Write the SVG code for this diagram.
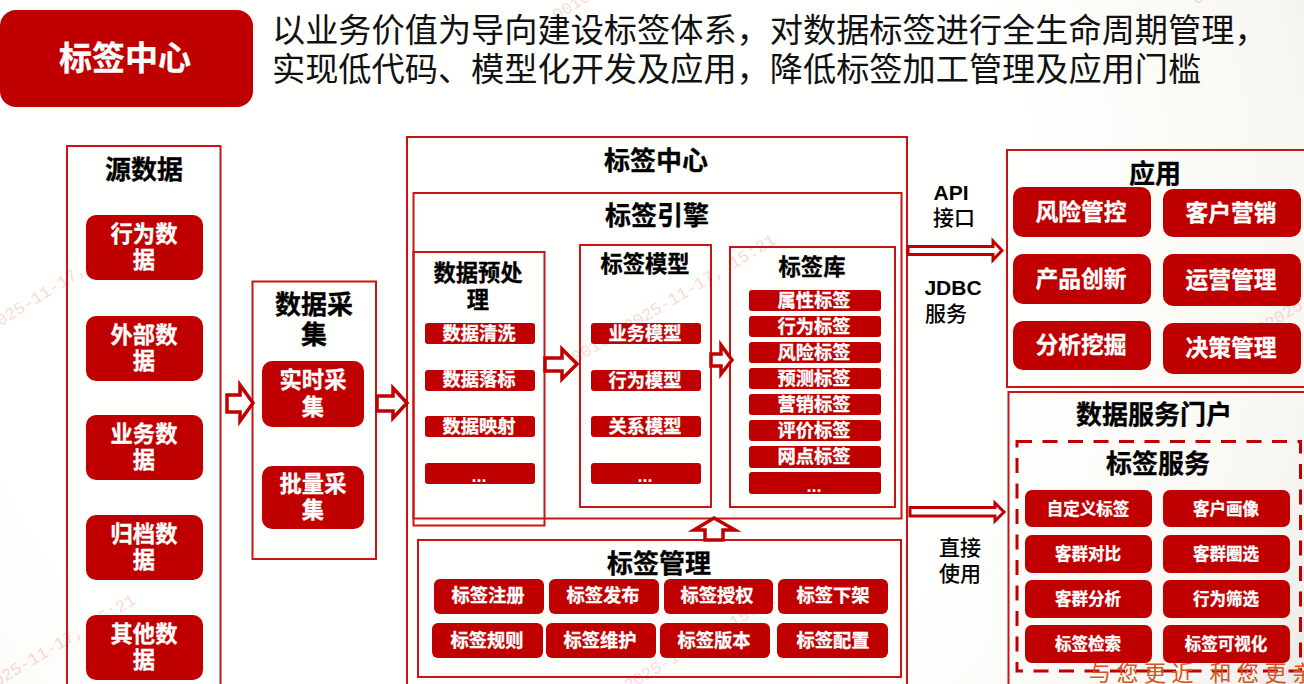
<svg xmlns="http://www.w3.org/2000/svg" width="1304" height="684" viewBox="0 0 1304 684">
<defs>
<radialGradient id="bg" gradientUnits="userSpaceOnUse" cx="500" cy="250" r="950">
<stop offset="0.55" stop-color="#fffffd"/><stop offset="0.85" stop-color="#f8f7f3"/><stop offset="1" stop-color="#e6e5e1"/>
</radialGradient>
</defs>
<style>
text{font-family:"Noto Sans CJK SC","Liberation Sans",sans-serif;text-anchor:middle}
.box{fill:none;stroke:#c81414;stroke-width:2}
.chip{fill:#c00000}
.w{fill:#fff;font-weight:700;stroke:#fff;stroke-width:.3}
.t{fill:#000;font-weight:700;stroke:#000;stroke-width:.3}
.n{fill:#000;font-size:21px;font-weight:500}
.lat{font-family:"Liberation Sans",sans-serif;font-weight:700}
.arrow{fill:#fff;stroke:#c00000;stroke-width:3.5}
.s26{font-size:26px}.s23{font-size:22.8px}.s22{font-size:22.3px}.s18{font-size:18.3px}.s17{font-size:16.5px}
.dots{font-family:"Liberation Sans",sans-serif;font-size:18px;font-weight:700;fill:#fff}
.wm{fill:#e84040;opacity:.2;font-size:17px;font-family:"Liberation Mono",monospace;text-anchor:end}
</style>
<rect width="1304" height="684" fill="url(#bg)"/>
<g id="watermarks">
<text class="wm" transform="translate(139,240) rotate(-32)">2025-11-17, 15:21</text>
<text class="wm" transform="translate(777,243) rotate(-31)">0010082025-11-17, 15:21</text>
<text class="wm" transform="translate(137,603) rotate(-31)">2025-11-17, 15:21</text>
<text class="wm" transform="translate(777,602) rotate(-31)">2025-11-17, 15:21</text>
<text class="wm" transform="translate(1304,308) rotate(-32)">0010082025</text>
<text class="wm" transform="translate(600,-6) rotate(-32)">00100</text>
<text class="wm" transform="translate(1240,-22) rotate(-32)">00100</text>
</g>
<g id="header">
<rect class="chip" x="0" y="10" width="253" height="97" rx="16"/>
<text class="w" x="125" y="70" font-size="33">标签中心</text>
<text x="272" y="42" font-size="33.200" fill="#111" style="text-anchor:start">以业务价值为导向建设标签体系，对数据标签进行全生命周期管理，</text>
<text x="272" y="81" font-size="33.200" fill="#111" style="text-anchor:start">实现低代码、模型化开发及应用，降低标签加工管理及应用门槛</text>
</g>
<g id="source">
<rect class="box" x="67" y="146" width="153.500" height="560"/>
<text class="t s26" x="144" y="179">源数据</text>
<rect class="chip" x="86" y="215" width="117" height="65" rx="10"/><text class="w s22" x="144" y="242">行为数</text><text class="w s22" x="144" y="268">据</text>
<rect class="chip" x="86" y="316" width="117" height="65" rx="10"/><text class="w s22" x="144" y="343">外部数</text><text class="w s22" x="144" y="369">据</text>
<rect class="chip" x="86" y="415" width="117" height="65" rx="10"/><text class="w s22" x="144" y="442">业务数</text><text class="w s22" x="144" y="468">据</text>
<rect class="chip" x="86" y="515" width="117" height="65" rx="10"/><text class="w s22" x="144" y="542">归档数</text><text class="w s22" x="144" y="568">据</text>
<rect class="chip" x="86" y="615" width="117" height="65" rx="10"/><text class="w s22" x="144" y="642">其他数</text><text class="w s22" x="144" y="668">据</text>
</g>
<g id="collect">
<rect class="box" x="252.500" y="281.500" width="123.500" height="277.500"/>
<text class="t s26" x="314" y="314">数据采</text><text class="t s26" x="314" y="344">集</text>
<rect class="chip" x="262" y="361" width="102" height="66" rx="10"/><text class="w s22" x="313" y="388">实时采</text><text class="w s22" x="313" y="415">集</text>
<rect class="chip" x="262" y="466" width="102" height="63" rx="10"/><text class="w s22" x="313" y="492">批量采</text><text class="w s22" x="313" y="518">集</text>
</g>
<g id="center">
<rect class="box" x="407" y="137" width="500" height="570"/>
<text class="t s26" x="656" y="170">标签中心</text>
</g>
<g id="engine">
<rect class="box" x="413.500" y="193" width="488" height="325.500"/>
<text class="t s26" x="657" y="225">标签引擎</text>
</g>
<g id="preprocess">
<rect class="box" x="413.500" y="252" width="131" height="273.500"/>
<text class="t s22" x="478" y="281">数据预处</text><text class="t s22" x="478" y="308">理</text>
<rect class="chip" x="425" y="323" width="110" height="21" rx="3"/><text class="w s18" x="479" y="340">数据清洗</text>
<rect class="chip" x="425" y="370" width="110" height="21" rx="3"/><text class="w s18" x="479" y="386">数据落标</text>
<rect class="chip" x="425" y="416" width="110" height="21" rx="3"/><text class="w s18" x="479" y="433">数据映射</text>
<rect class="chip" x="425" y="463" width="110" height="21" rx="3"/><text class="dots" x="479" y="482">...</text>
</g>
<g id="model">
<rect class="box" x="580" y="245" width="131" height="262"/>
<text class="t s22" x="645" y="272">标签模型</text>
<rect class="chip" x="591" y="323" width="110" height="21" rx="3"/><text class="w s18" x="645" y="340">业务模型</text>
<rect class="chip" x="591" y="370" width="110" height="21" rx="3"/><text class="w s18" x="645" y="387">行为模型</text>
<rect class="chip" x="591" y="416" width="110" height="21" rx="3"/><text class="w s18" x="645" y="433">关系模型</text>
<rect class="chip" x="591" y="463" width="110" height="21" rx="3"/><text class="dots" x="645" y="482">...</text>
</g>
<g id="library">
<rect class="box" x="730" y="247" width="165" height="260"/>
<text class="t s22" x="812" y="275">标签库</text>
<rect class="chip" x="749" y="290" width="132" height="21" rx="3"/><text class="w s18" x="814" y="307">属性标签</text>
<rect class="chip" x="749" y="316" width="132" height="21" rx="3"/><text class="w s18" x="814" y="333">行为标签</text>
<rect class="chip" x="749" y="342" width="132" height="21" rx="3"/><text class="w s18" x="814" y="359">风险标签</text>
<rect class="chip" x="749" y="368" width="132" height="21" rx="3"/><text class="w s18" x="814" y="385">预测标签</text>
<rect class="chip" x="749" y="394" width="132" height="21" rx="3"/><text class="w s18" x="814" y="411">营销标签</text>
<rect class="chip" x="749" y="420" width="132" height="21" rx="3"/><text class="w s18" x="814" y="437">评价标签</text>
<rect class="chip" x="749" y="446" width="132" height="22" rx="3"/><text class="w s18" x="814" y="463">网点标签</text>
<rect class="chip" x="749" y="472" width="132" height="22" rx="3"/><text class="dots" x="814" y="492">...</text>
</g>
<g id="manage">
<rect class="box" x="418" y="540" width="483" height="137"/>
<text class="t s26" x="659" y="573">标签管理</text>
<rect class="chip" x="434" y="579" width="110" height="35" rx="6"/><text class="w s18" x="488" y="602">标签注册</text>
<rect class="chip" x="549" y="579" width="110" height="35" rx="6"/><text class="w s18" x="603" y="602">标签发布</text>
<rect class="chip" x="664" y="579" width="109" height="35" rx="6"/><text class="w s18" x="717" y="602">标签授权</text>
<rect class="chip" x="778" y="579" width="110" height="35" rx="6"/><text class="w s18" x="833" y="602">标签下架</text>
<rect class="chip" x="432" y="623" width="111" height="35" rx="6"/><text class="w s18" x="487" y="647">标签规则</text>
<rect class="chip" x="546" y="623" width="110" height="35" rx="6"/><text class="w s18" x="600" y="647">标签维护</text>
<rect class="chip" x="660" y="623" width="110" height="35" rx="6"/><text class="w s18" x="714" y="647">标签版本</text>
<rect class="chip" x="777" y="623" width="111" height="35" rx="6"/><text class="w s18" x="833" y="647">标签配置</text>
</g>
<g id="apps">
<rect class="box" x="1007" y="150" width="310" height="237"/>
<text class="t s26" x="1155" y="183">应用</text>
<rect class="chip" x="1013" y="187" width="138" height="50" rx="10"/><text class="w s23" x="1081" y="220">风险管控</text>
<rect class="chip" x="1163" y="189" width="138" height="48" rx="10"/><text class="w s23" x="1231" y="221">客户营销</text>
<rect class="chip" x="1013" y="254" width="138" height="50" rx="10"/><text class="w s23" x="1081" y="287">产品创新</text>
<rect class="chip" x="1163" y="254" width="138" height="52" rx="10"/><text class="w s23" x="1231" y="288">运营管理</text>
<rect class="chip" x="1013" y="321" width="138" height="49" rx="10"/><text class="w s23" x="1081" y="353">分析挖掘</text>
<rect class="chip" x="1163" y="323" width="138" height="51" rx="10"/><text class="w s23" x="1231" y="356">决策管理</text>
</g>
<g id="portal">
<rect class="box" x="1008.500" y="392" width="310" height="310"/>
<text class="t s26" x="1154" y="424">数据服务门户</text>
<rect x="1017" y="441.500" width="283.500" height="229.500" fill="none" stroke="#c00000" stroke-width="3" stroke-dasharray="15 10.500"/>
<text class="t s26" x="1158" y="473">标签服务</text>
<rect class="chip" x="1025" y="490" width="127" height="37" rx="7"/><text class="w s17" x="1088" y="515">自定义标签</text>
<rect class="chip" x="1163" y="490" width="127" height="37" rx="7"/><text class="w s17" x="1226" y="515">客户画像</text>
<rect class="chip" x="1025" y="535" width="127" height="38" rx="7"/><text class="w s17" x="1088" y="560">客群对比</text>
<rect class="chip" x="1163" y="535" width="127" height="38" rx="7"/><text class="w s17" x="1226" y="560">客群圈选</text>
<rect class="chip" x="1025" y="580" width="127" height="38" rx="7"/><text class="w s17" x="1088" y="605">客群分析</text>
<rect class="chip" x="1163" y="580" width="127" height="38" rx="7"/><text class="w s17" x="1226" y="605">行为筛选</text>
<rect class="chip" x="1025" y="625" width="127" height="38" rx="7"/><text class="w s17" x="1088" y="650">标签检索</text>
<rect class="chip" x="1163" y="625" width="127" height="38" rx="7"/><text class="w s17" x="1226" y="650">标签可视化</text>
</g>
<g id="connectors">
<polygon class="arrow" points="227,395 240,395 240,385 253,403 240,421 240,412 227,412"/>
<polygon class="arrow" points="377,396 393,396 393,388 407,403 393,418 393,411 377,411"/>
<polygon class="arrow" points="545,358 562,358 562,349 577,364 562,379 562,371 545,371"/>
<polygon class="arrow" points="711,354 721,354 721,345 732,360 721,374 721,366 711,366"/>
<polygon class="arrow" points="705,540 705,530 694,530 714,518 735,530 723,530 723,540"/>
<polygon class="arrow" style="stroke-width:3" points="908,246.500 993,246.500 993,241 1002,250.500 993,260 993,254.500 908,254.500"/>
<polygon class="arrow" style="stroke-width:3" points="910,507.500 995,507.500 995,503 1004,512 995,521 995,516 910,516"/>
</g>
<g id="labels">
<text class="n lat" x="951" y="200">API</text>
<text class="n" x="954" y="225">接口</text>
<text class="n lat" x="953" y="295">JDBC</text>
<text class="n" x="946" y="321">服务</text>
<text class="n" x="960" y="555">直接</text>
<text class="n" x="960" y="581">使用</text>
<text x="1089" y="681" font-size="22" letter-spacing="5.500" fill="#d8541a" style="text-anchor:start;font-family:'Noto Sans CJK SC',serif">与您更近 和您更亲</text>
</g>
</svg>
